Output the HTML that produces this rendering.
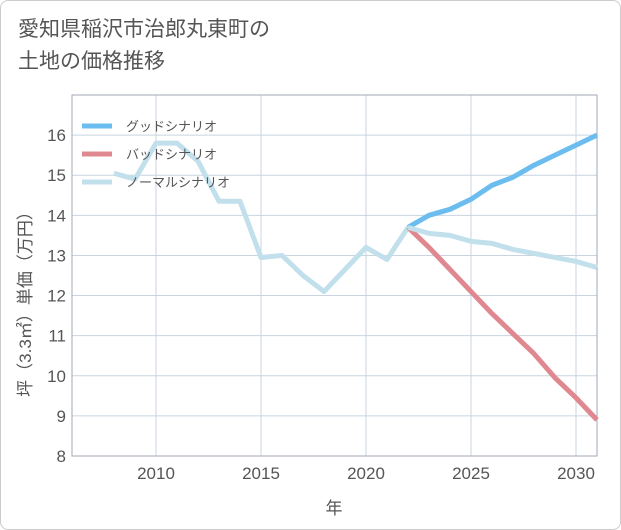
<!DOCTYPE html>
<html><head><meta charset="utf-8"><style>
body{margin:0;background:#fff;font-family:"Liberation Sans","Noto Sans CJK JP",sans-serif}
#card{position:absolute;left:0;top:0;width:619px;height:528px;border:1px solid #ccc;border-radius:8px;background:#fff}
#title{position:absolute;left:18px;top:14px;font-size:21px;line-height:32px;color:#555}
</style></head><body>
<div id="card"></div>
<div id="title">愛知県稲沢市治郎丸東町の<br>土地の価格推移</div>
<svg id="chart" width="621" height="530" style="position:absolute;left:0;top:0"></svg>
<script>
const years=[2008,2009,2010,2011,2012,2013,2014,2015,2016,2017,2018,2019,2020,2021,2022];
const normalHist=[15.05,14.9,15.8,15.8,15.35,14.35,14.35,12.95,13.0,12.5,12.1,12.65,13.2,12.9,13.7];
const fYears=[2022,2023,2024,2025,2026,2027,2028,2029,2030,2031];
const good=[13.7,14.0,14.15,14.4,14.75,14.95,15.25,15.5,15.75,16.0];
const bad=[13.7,13.2,12.65,12.1,11.55,11.05,10.55,9.95,9.45,8.9];
const normalF=[13.7,13.55,13.5,13.35,13.3,13.15,13.05,12.95,12.85,12.7];
const yTicks=[8,9,10,11,12,13,14,15,16];
const xTicks=[2010,2015,2020,2025,2030];
const legendNames=["グッドシナリオ","バッドシナリオ","ノーマルシナリオ"];
const L=72,R=597,T=95,B=456;
const x=v=>L+(v-2006)*(R-L)/25;
const y=v=>B-(v-8)*(B-T)/9;
const svg=document.getElementById('chart');
const NS="http://www.w3.org/2000/svg";
function mk(t,a,p){const e=document.createElementNS(NS,t);for(const k in a)e.setAttribute(k,a[k]);(p||svg).appendChild(e);return e;}
const grid=mk('g',{});


yTicks.forEach(v=>{
  const l=mk('line',{x1:L,x2:R,y1:y(v),y2:y(v),stroke:'#c8d4e0','stroke-width':1},grid);
  
  
  const t=mk('text',{x:L-6,y:y(v)+6,'text-anchor':'end','font-size':17,fill:'#555'});
  t.textContent=v;
  
  
});
xTicks.forEach(v=>{
  const l=mk('line',{x1:x(v),x2:x(v),y1:T,y2:B,stroke:'#c8d4e0','stroke-width':1},grid);
  
  
  const t=mk('text',{x:x(v),y:B+23,'text-anchor':'middle','font-size':17,fill:'#555'});
  t.textContent=v;
  
  
});
const fr=mk('rect',{x:L,y:T,width:R-L,height:B-T,fill:'none',stroke:'#a0aab4','stroke-width':1});


function line(xs,vs,c,name){
  const p=mk('polyline',{points:xs.map((a,i)=>x(a)+','+y(vs[i])).join(' '),fill:'none',stroke:c,'stroke-width':5,'stroke-linejoin':'round'});
  
  
}
line(years,normalHist,'#c2e0ec','normal-history-line');
line(fYears,bad,'#e08890','bad-scenario-line');
line(fYears,good,'#6bbdf0','good-scenario-line');
line(fYears,normalF,'#c2e0ec','normal-scenario-line');
const cols=['#6bbdf0','#e08890','#c2e0ec'];
legendNames.forEach((n,i)=>{
  const g=mk('g',{});
  
  
  const yy=126+i*28;
  mk('line',{x1:82,x2:112,y1:yy,y2:yy,stroke:cols[i],'stroke-width':5},g);
  const t=mk('text',{x:126,y:yy+5,'font-size':13,fill:'#555'},g);
  t.textContent=n;
});
const yt=mk('text',{transform:'translate(31,300) rotate(-90)','text-anchor':'middle','font-size':17,fill:'#555'});
yt.textContent='坪（3.3㎡）単価（万円）';


const xt=mk('text',{x:334,y:514,'text-anchor':'middle','font-size':17,fill:'#555'});
xt.textContent='年';


</script>
</body></html>
